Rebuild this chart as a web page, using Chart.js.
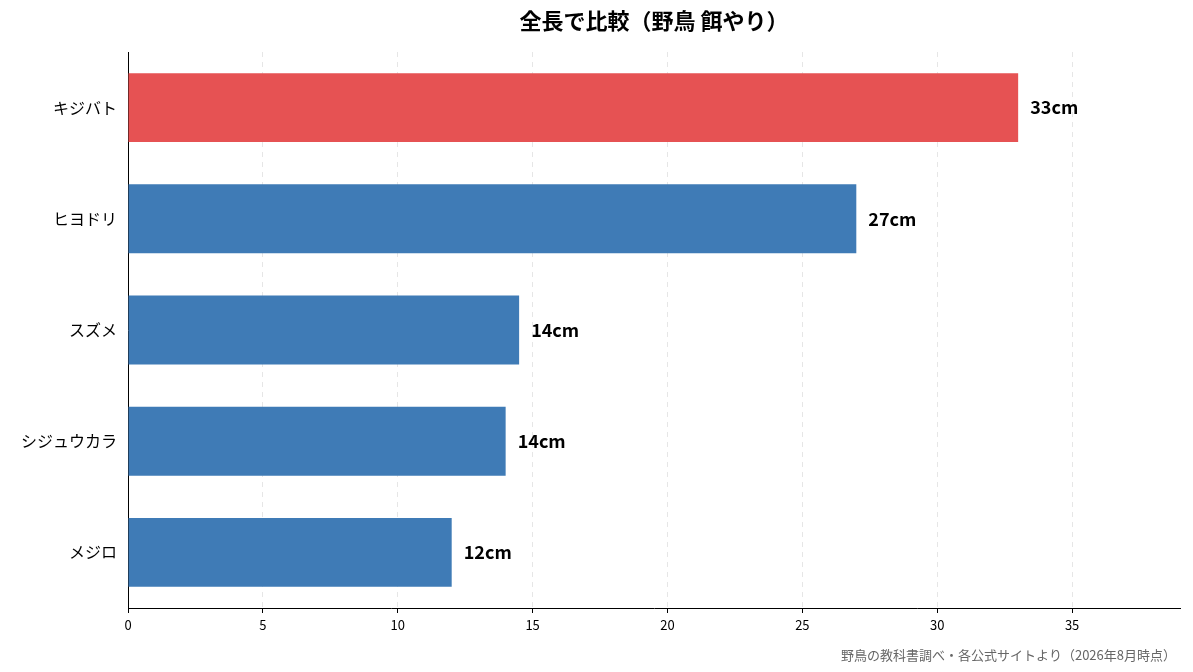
<!DOCTYPE html>
<html>
<head>
<meta charset="utf-8">
<script src="https://cdn.jsdelivr.net/npm/chart.js@4"></script>
<style>
  body { margin: 0; background: #fff; }
  canvas { display: block; }
</style>
</head>
<body>
<canvas id="chart" width="1193" height="672"></canvas>
<script>
// --- données ---
const OISEAUX  = ['キジバト', 'ヒヨドリ', 'スズメ', 'シジュウカラ', 'メジロ'];
const LONGUEUR = [33, 27, 14.5, 14, 12];
const ETIQUETTES = ['33cm', '27cm', '14cm', '14cm', '12cm'];
const COULEURS = ['#e65253', '#3f7bb6', '#3f7bb6', '#3f7bb6', '#3f7bb6'];
const TITRE = '全長で比較（野鳥 餌やり）';
const SOURCE = '野鳥の教科書調べ・各公式サイトより（2026年8月時点）';
const FONT = '"Noto Sans CJK JP", "Noto Sans", sans-serif';

// titre, source et valeurs en bout de barre
const decor = {
    id: 'decor',
    afterDatasetsDraw(chart) {
        const ctx = chart.ctx;
        const meta = chart.getDatasetMeta(0);
        ctx.save();
        ctx.fillStyle = '#000';
        ctx.font = `bold 18px ${FONT}`;
        ctx.textBaseline = 'middle';
        ctx.textAlign = 'left';
        meta.data.forEach((bar, i) => ctx.fillText(ETIQUETTES[i], bar.x + 12, bar.y));

        ctx.textAlign = 'center';
        ctx.font = `bold 22px ${FONT}`;
        ctx.fillText(TITRE, 654, 21);

        ctx.textAlign = 'right';
        ctx.font = `13px ${FONT}`;
        ctx.fillStyle = '#666';
        ctx.fillText(SOURCE, 1176, 655);
        ctx.restore();
    },
};

new Chart(document.getElementById('chart'), {
    type: 'bar',
    data: {
        labels: OISEAUX,
        datasets: [{
            data: LONGUEUR,
            backgroundColor: COULEURS,
            borderWidth: 0,
            barPercentage: 0.62,
            categoryPercentage: 1,
        }],
    },
    options: {
        responsive: false,
        animation: false,
        indexAxis: 'y',
        layout: { padding: { top: 52, right: 13, left: 0, bottom: 0 } },
        plugins: { legend: { display: false }, tooltip: { enabled: false } },
        scales: {
            x: {
                min: 0,
                max: 39,
                afterFit: s => { s.height = 64; },
                grid: { color: '#e6e6e6', drawTicks: true, tickColor: '#000', tickLength: 5 },
                border: { color: '#000', dash: [5, 5], display: true },
                ticks: { stepSize: 5, color: '#000', font: { size: 13, family: FONT }, padding: 4,
                         callback: v => v % 5 === 0 && v <= 35 ? v : null },
            },
            y: {
                afterFit: s => { s.width = 128; },
                grid: { display: false, tickColor: '#000', tickLength: 5 },
                border: { color: '#000' },
                ticks: { color: '#000', font: { size: 16, family: FONT }, padding: 6 },
            },
        },
    },
    plugins: [decor],
});
</script>
</body>
</html>
